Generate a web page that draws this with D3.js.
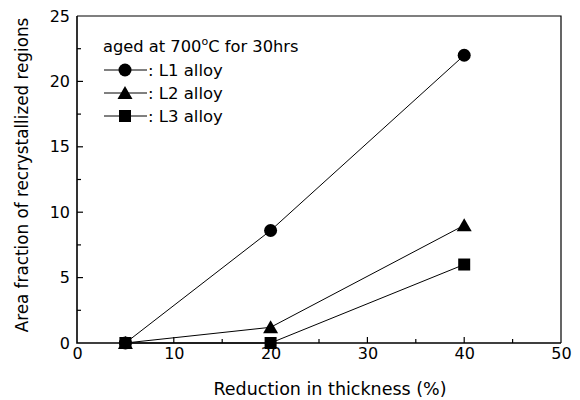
<!DOCTYPE html>
<html>
<head>
<meta charset="utf-8">
<script src="https://cdn.jsdelivr.net/npm/d3@7"></script>
<style>
  body { margin: 0; background: #fff; }
  text { font-family: "DejaVu Sans", Verdana, sans-serif; fill: #000; }
</style>
</head>
<body>
<svg id="chart" width="580" height="400"></svg>
<script>
// reduction in thickness (%)
var reduction = [5, 20, 40];
// area fraction of recrystallized regions
var seriesL1 = [0, 8.6, 22];
var seriesL2 = [0, 1.2, 9];
var seriesL3 = [0, 0, 6];
var seriesNames = ["L1 alloy", "L2 alloy", "L3 alloy"];
var seriesShapes = ["circle", "triangle", "square"];
var xTicks = [0, 10, 20, 30, 40, 50];
var yTicks = [0, 5, 10, 15, 20, 25];

(function() {

var svg = d3.select("#chart");
var plotLeft = 77, plotRight = 561, plotTop = 16, plotBottom = 343;

var x = d3.scaleLinear().domain([0, 50]).range([plotLeft, plotRight]);
var y = d3.scaleLinear().domain([0, 25]).range([plotBottom, plotTop]);

// frame: top/right thinner than the axis lines
svg.append("path")
  .attr("d", "M" + plotLeft + "," + plotTop + " H" + plotRight + " V" + plotBottom)
  .attr("fill", "none").attr("stroke", "#000").attr("stroke-width", 1.2);
svg.append("path")
  .attr("d", "M" + plotLeft + "," + plotTop + " V" + plotBottom + " H" + plotRight)
  .attr("fill", "none").attr("stroke", "#000").attr("stroke-width", 1.6);

// bottom axis, ticks pointing inward
var gx = svg.append("g").attr("transform", "translate(0," + plotBottom + ")");
gx.call(d3.axisBottom(x).tickValues(xTicks).tickSize(0).tickPadding(5));
gx.select(".domain").remove();
gx.selectAll("text").attr("font-size", 16).style("font-family", "DejaVu Sans");
d3.range(0, 51, 5).forEach(function(v){
  if (v == 0 || v == 50) return;
  var len = (v % 10 == 0) ? 6 : 4;
  svg.append("line")
    .attr("x1", x(v)).attr("x2", x(v))
    .attr("y1", plotBottom).attr("y2", plotBottom - len)
    .attr("stroke", "#000").attr("stroke-width", 1.2);
});

// left axis
var gy = svg.append("g").attr("transform", "translate(" + plotLeft + ",0)");
gy.call(d3.axisLeft(y).tickValues(yTicks).tickSize(0).tickPadding(7));
gy.select(".domain").remove();
gy.selectAll("text").attr("font-size", 16).style("font-family", "DejaVu Sans");
d3.range(0, 25.1, 2.5).forEach(function(v){
  if (v == 0 || v == 25) return;
  var len = (v % 5 == 0) ? 6 : 4;
  svg.append("line")
    .attr("x1", plotLeft).attr("x2", plotLeft + len)
    .attr("y1", y(v)).attr("y2", y(v))
    .attr("stroke", "#000").attr("stroke-width", 1.2);
});

// axis titles
svg.append("text")
  .attr("x", 330).attr("y", 395)
  .attr("text-anchor", "middle").attr("font-size", 17.5)
  .text("Reduction in thickness (%)");
svg.append("text")
  .attr("transform", "translate(28,175) rotate(-90)")
  .attr("text-anchor", "middle").attr("font-size", 16.8)
  .text("Area fraction of recrystallized regions");

// markers
function drawMarker(g, shape, cx, cy){
  if (shape == "circle") {
    g.append("circle").attr("cx", cx).attr("cy", cy).attr("r", 6.5).attr("fill", "#000");
  } else if (shape == "triangle") {
    g.append("path")
      .attr("d", "M" + cx + "," + (cy - 7) + " L" + (cx + 7.5) + "," + (cy + 6) + " L" + (cx - 7.5) + "," + (cy + 6) + " Z")
      .attr("fill", "#000");
  } else {
    g.append("rect").attr("x", cx - 6).attr("y", cy - 6).attr("width", 12).attr("height", 12).attr("fill", "#000");
  }
}

var allSeries = [seriesL1, seriesL2, seriesL3];
var line = d3.line().x(function(d){ return x(d[0]); }).y(function(d){ return y(d[1]); });

// draw L3 first so the L1 circles end up on top
[2, 1, 0].forEach(function(i){
  var vals = allSeries[i];
  var pts = reduction.map(function(r, j){ return [r, vals[j]]; });
  svg.append("path")
    .attr("d", line(pts))
    .attr("fill", "none").attr("stroke", "#000").attr("stroke-width", 1);
  var g = svg.append("g");
  pts.forEach(function(p){ drawMarker(g, seriesShapes[i], x(p[0]), y(p[1])); });
});

// legend
svg.append("text")
  .attr("x", 103).attr("y", 52).attr("font-size", 16.3)
  .html('aged at 700<tspan dy="-7" font-size="11">o</tspan><tspan dy="7">C for 30hrs</tspan>');

seriesNames.forEach(function(name, i){
  var ly = 70 + i * 23;
  svg.append("line")
    .attr("x1", 104).attr("x2", 147).attr("y1", ly).attr("y2", ly)
    .attr("stroke", "#000").attr("stroke-width", 1);
  drawMarker(svg, seriesShapes[i], 125, ly);
  svg.append("text")
    .attr("x", 148).attr("y", ly + 6).attr("font-size", 16.5)
    .text(": " + name);
});

})();
</script>
</body>
</html>
